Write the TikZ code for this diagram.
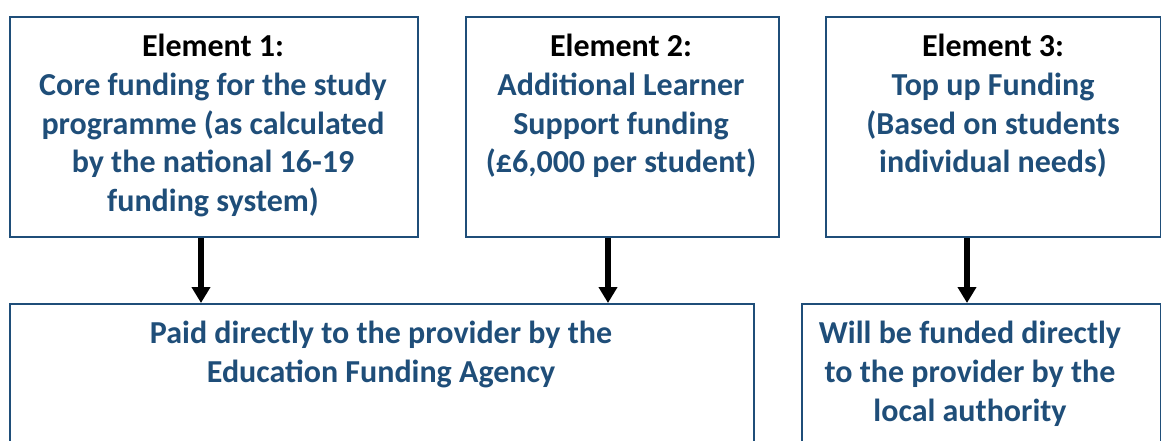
\documentclass[tikz,border=0pt]{standalone}
\usepackage{fontspec}
\setmainfont{Carlito}
\usetikzlibrary{arrows.meta}
\definecolor{bleu}{RGB}{31,78,121}
\begin{document}
\begin{tikzpicture}[x=0.5pt,y=-0.5pt]
\tikzstyle{boite}=[draw=bleu, line width=1pt, rectangle, inner sep=0pt, anchor=north west]
\tikzstyle{texte}=[anchor=north, align=center, inner sep=0pt, text=bleu, font=\bfseries\fontsize{16}{19.3}\selectfont]
\tikzstyle{fleche}=[line width=2.6pt, -{Triangle[width=9pt,length=8pt]}]
\useasboundingbox (0,0) rectangle (1161,440);
% boites du haut
\node[boite, minimum width=204pt, minimum height=110pt] (e1) at (9,16) {};
\node[boite, minimum width=156.5pt, minimum height=110pt] (e2) at (465,16) {};
\node[boite, minimum width=167.5pt, minimum height=110pt] (e3) at (825,16) {};
% boites du bas
\node[boite, minimum width=372pt, minimum height=85pt] (p1) at (9,303) {};
\node[boite, minimum width=179.5pt, minimum height=85pt] (p2) at (801,303) {};
% textes
\node[texte] (t1) at (213,34) {\textcolor{black}{Element 1:}\\Core funding for the study\\programme (as calculated\\by the national 16-19\\funding system)};
\node[texte] (t2) at (621,34) {\textcolor{black}{Element 2:}\\Additional Learner\\Support funding\\(£6,000 per student)};
\node[texte] (t3) at (993,34) {\textcolor{black}{Element 3:}\\Top up Funding\\(Based on students\\individual needs)};
\node[texte] (t4) at (381,321) {Paid directly to the provider by the\\Education Funding Agency};
\node[texte] (t5) at (970,321) {Will be funded directly\\to the provider by the\\local authority};
% fleches
\coordinate (a1) at (201,0);
\coordinate (a2) at (608,0);
\coordinate (a3) at (967,0);
\draw[fleche] (a1 |- e1.south) -- (a1 |- p1.north);
\draw[fleche] (a2 |- e2.south) -- (a2 |- p1.north);
\draw[fleche] (a3 |- e3.south) -- (a3 |- p2.north);
\end{tikzpicture}
\end{document}
